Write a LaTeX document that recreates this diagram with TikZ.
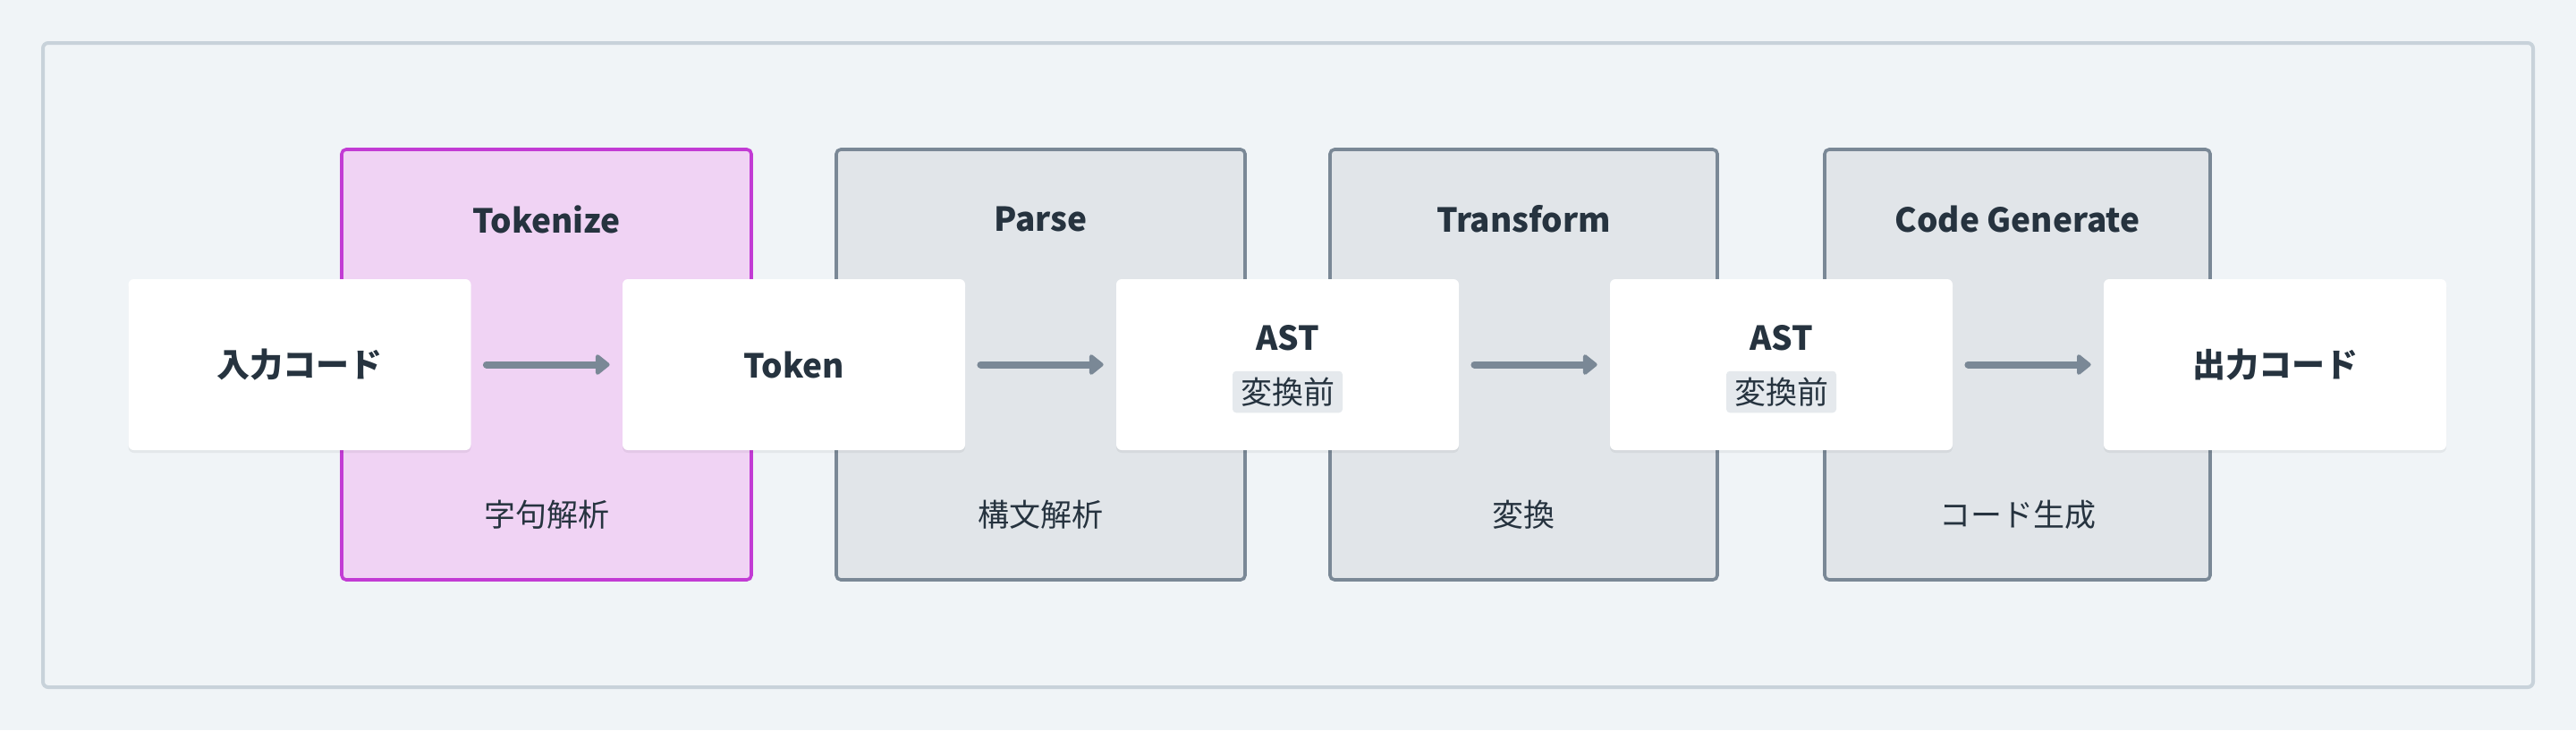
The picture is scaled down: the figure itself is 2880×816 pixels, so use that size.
\documentclass[tikz,border=0pt]{standalone}
\usepackage{fontspec}
\setmainfont{Noto Sans CJK JP}
\usetikzlibrary{arrows.meta,shadows}
\definecolor{bg}{HTML}{F0F4F7}
\definecolor{frameline}{HTML}{C8D2DA}
\definecolor{tokfill}{HTML}{F0D3F4}
\definecolor{tokline}{HTML}{C23BD4}
\definecolor{grpfill}{HTML}{E1E5E9}
\definecolor{grpline}{HTML}{7A8896}
\definecolor{ink}{HTML}{26333F}
\definecolor{badgefill}{HTML}{E5E9ED}
\begin{document}
\begin{tikzpicture}[x=0.5pt,y=-0.5pt,
  outerframe/.style={draw=frameline,line width=2pt,rounded corners=3pt,fill=bg},
  grp/.style={draw=grpline,fill=grpfill,line width=1.8pt,rounded corners=2.5pt,minimum height=240.5pt,inner sep=0pt},
  tokgrp/.style={grp,draw=tokline,fill=tokfill},
  card/.style={fill=white,rounded corners=3pt,minimum width=191.5pt,minimum height=95.5pt,inner sep=0pt,
    drop shadow={shadow xshift=0pt,shadow yshift=-1.5pt,opacity=0.05,fill=black}},
  title/.style={text=ink,font=\fontsize{18.5pt}{22pt}\selectfont\bfseries,inner sep=0pt},
  sub/.style={text=ink,font=\fontsize{17.5pt}{21pt}\selectfont,inner sep=0pt},
  badge/.style={fill=badgefill,rounded corners=2pt,text=ink,font=\fontsize{17.5pt}{21pt}\selectfont,inner xsep=4.5pt,inner ysep=3.5pt},
  conn/.style={draw=grpline,line width=4pt,line cap=round,-{Triangle[length=8.5pt,width=13pt,round]},shorten <=8.5pt,shorten >=7pt}
]
\useasboundingbox (0,0) rectangle (2880,816);
\fill[bg] (0,0) rectangle (2880,816);
\node[outerframe,minimum width=1392pt,minimum height=360pt] (frame) at (1440,408) {};

% stage groups
\node[tokgrp,minimum width=229pt] (g1) at (611,407.5) {};
\node[grp,minimum width=228.5pt] (g2) at (1163.5,407.5) {};
\node[grp,minimum width=216.5pt] (g3) at (1703.5,407.5) {};
\node[grp,minimum width=215.5pt] (g4) at (2255.5,407.5) {};

\node[title] (t1) at (611,245) {Tokenize};
\node[title] (t2) at (1163.5,245) {Parse};
\node[title] (t3) at (1703.5,245) {Transform};
\node[title] (t4) at (2255.5,245) {Code Generate};

\node[sub] (s1) at (611,575) {字句解析};
\node[sub] (s2) at (1163.5,575) {構文解析};
\node[sub] (s3) at (1703.5,575) {変換};
\node[sub] (s4) at (2255.5,575) {コード生成};

% cards
\node[card] (n1) at (335,407.5) {};
\node[card] (n2) at (887.5,407.5) {};
\node[card] (n3) at (1439.5,407.5) {};
\node[card] (n4) at (1991.5,407.5) {};
\node[card] (n5) at (2543.5,407.5) {};

\node[title] (l1) at (335,407.5) {入力コード};
\node[title] (l2) at (887.5,407.5) {Token};
\node[title] (l3) at (1439.5,378) {AST};
\node[badge] (b3) at (1439.5,438) {変換前};
\node[title] (l4) at (1991.5,378) {AST};
\node[badge] (b4) at (1991.5,438) {変換前};
\node[title] (l5) at (2543.5,407.5) {出力コード};

\draw[conn] (n1) -- (n2);
\draw[conn] (n2) -- (n3);
\draw[conn] (n3) -- (n4);
\draw[conn] (n4) -- (n5);
\end{tikzpicture}
\end{document}
